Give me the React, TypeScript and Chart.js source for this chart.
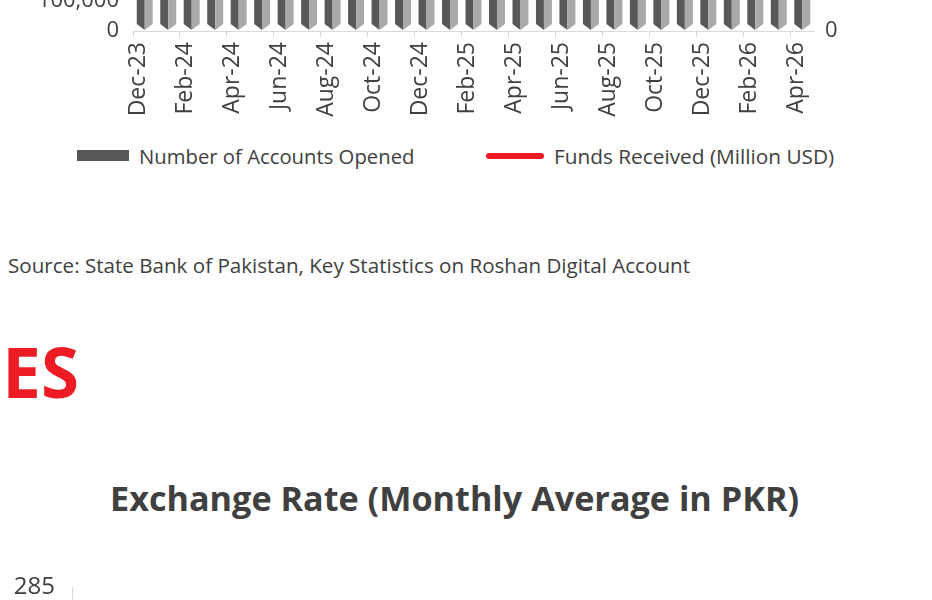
import React, { useEffect, useRef } from "react";
import { Chart, registerables } from "chart.js";
Chart.register(...registerables);

const months = [
  "Dec-23", "Jan-24", "Feb-24", "Mar-24", "Apr-24", "May-24", "Jun-24", "Jul-24",
  "Aug-24", "Sep-24", "Oct-24", "Nov-24", "Dec-24", "Jan-25", "Feb-25", "Mar-25",
  "Apr-25", "May-25", "Jun-25", "Jul-25", "Aug-25", "Sep-25", "Oct-25", "Nov-25",
  "Dec-25", "Jan-26", "Feb-26", "Mar-26", "Apr-26",
];

const accountsOpened = [
  731200, 746800, 760900, 772400, 786100, 799500, 812300, 825900, 839200, 852700,
  866400, 879100, 892500, 905300, 917800, 930600, 942100, 954900, 966300, 978800,
  990200, 1002600, 1014900, 1026300, 1038700, 1050200, 1061500, 1072900, 1084600,
];

const fundsReceived = [
  7900, 8050, 8200, 8360, 8520, 8690, 8850, 9010, 9170, 9330,
  9490, 9650, 9810, 9960, 10110, 10260, 10410, 10560, 10720, 10870,
  11010, 11150, 11290, 11430, 11560, 11690, 11820, 11950, 12080,
];

const exchangeRate = [
  282.4, 280.4, 279.3, 278.9, 278.4, 278.3, 278.3, 278.4, 278.6, 278.5,
  277.8, 277.7, 278.2, 279.0, 279.5, 280.0, 280.8, 281.5, 282.5, 283.0,
  282.6, 281.9, 281.2, 280.9, 280.6, 280.3, 280.1, 280.0, 279.8,
];

const accountsTicks = { min: 0, max: 1200000, step: 100000 };
const fundsTicks = { min: 0, max: 14000, step: 2000 };
const rateTicks = { min: 265, max: 285, step: 5 };

const legendLabels = ["Number of Accounts Opened", "Funds Received (Million USD)"];
const sourceText = "Source: State Bank of Pakistan, Key Statistics on Roshan Digital Account";
const sectionHeading = "PRICES";
const rateTitle = "Exchange Rate (Monthly Average in PKR)";

const DARK = "#58585a";
const LIGHT = "#a9a9ab";
const RED = "#ed1c24";
const TEXT = "#404040";
const AXIS = "#d9d9d9";
const FONT = "'Open Sans', sans-serif";

const bar3d = {
  id: "bar3d",
  afterDatasetDraw(chart: any, args: any) {
    if (args.index !== 0) return;
    const ctx = chart.ctx;
    ctx.save();
    args.meta.data.forEach((el: any) => {
      const { x, y, base, width } = el.getProps(["x", "y", "base", "width"], true);
      const l = x - width / 2;
      const r = x + width / 2;
      const b = base - 1;
      const tip = 6;
      ctx.fillStyle = DARK;
      ctx.beginPath();
      ctx.moveTo(l, y);
      ctx.lineTo(x, y);
      ctx.lineTo(x, b);
      ctx.lineTo(l, b - tip);
      ctx.closePath();
      ctx.fill();
      ctx.fillStyle = LIGHT;
      ctx.beginPath();
      ctx.moveTo(x, y);
      ctx.lineTo(r, y);
      ctx.lineTo(r, b - tip);
      ctx.lineTo(x, b);
      ctx.closePath();
      ctx.fill();
    });
    ctx.restore();
  },
};

function RdaChart() {
  const ref = useRef<HTMLCanvasElement>(null);
  useEffect(() => {
    const chart = new Chart(ref.current!, {
      type: "bar",
      data: {
        labels: months,
        datasets: [
          {
            type: "bar",
            label: legendLabels[0],
            data: accountsOpened,
            backgroundColor: "rgba(0,0,0,0)",
            borderWidth: 0,
            yAxisID: "y",
            categoryPercentage: 1,
            barPercentage: 0.68,
            order: 2,
          },
          {
            type: "line",
            label: legendLabels[1],
            data: fundsReceived,
            borderColor: RED,
            borderWidth: 3,
            pointRadius: 0,
            yAxisID: "y1",
            order: 1,
          } as any,
        ],
      },
      options: {
        responsive: false,
        animation: false,
        layout: { padding: { top: 20, left: 0, right: 0, bottom: 0 } },
        plugins: { legend: { display: false }, tooltip: { enabled: false } },
        scales: {
          x: {
            afterFit: (s: any) => { s.height = 90; },
            grid: {
              display: true,
              drawOnChartArea: false,
              tickLength: 6,
              color: (c: any) => (c.index % 2 === 0 ? AXIS : "rgba(0,0,0,0)"),
            },
            border: { display: true, color: AXIS, width: 1 },
            ticks: {
              autoSkip: false,
              maxRotation: 90,
              minRotation: 90,
              padding: 5,
              labelOffset: -6,
              color: TEXT,
              font: { family: FONT, size: 23 },
              callback: (_v: any, i: number) => (i % 2 === 0 ? months[i] : ""),
            },
          },
          y: {
            position: "left",
            min: accountsTicks.min,
            max: accountsTicks.max,
            afterFit: (s: any) => { s.width = 133; },
            grid: { display: false },
            border: { display: false },
            ticks: {
              stepSize: accountsTicks.step,
              padding: 6,
              color: TEXT,
              font: { family: FONT, size: 22 },
              callback: (v: any) => Number(v).toLocaleString("en-US"),
            },
          },
          y1: {
            position: "right",
            min: fundsTicks.min,
            max: fundsTicks.max,
            afterFit: (s: any) => { s.width = 118; },
            grid: { display: false },
            border: { display: false },
            ticks: {
              stepSize: fundsTicks.step,
              padding: 3,
              color: TEXT,
              font: { family: FONT, size: 22 },
              callback: (v: any) => Number(v).toLocaleString("en-US"),
            },
          },
        },
      },
      plugins: [bar3d],
    });
    return () => chart.destroy();
  }, []);
  return (
    <canvas
      ref={ref}
      width={932}
      height={470}
      style={{ position: "absolute", left: 0, top: -349, width: 932, height: 470 }}
    />
  );
}

function RateChart() {
  const ref = useRef<HTMLCanvasElement>(null);
  useEffect(() => {
    const chart = new Chart(ref.current!, {
      type: "line",
      data: {
        labels: months,
        datasets: [
          {
            label: rateTitle,
            data: exchangeRate,
            borderColor: RED,
            borderWidth: 3,
            pointRadius: 0,
          },
        ],
      },
      options: {
        responsive: false,
        animation: false,
        layout: { padding: { top: 25, left: 0, right: 20, bottom: 0 } },
        plugins: { legend: { display: false }, tooltip: { enabled: false } },
        scales: {
          x: {
            grid: { display: false },
            border: { display: true, color: AXIS },
            ticks: { color: TEXT, font: { family: FONT, size: 18 } },
          },
          y: {
            min: rateTicks.min,
            max: rateTicks.max,
            afterFit: (s: any) => { s.width = 72; },
            grid: { display: false },
            border: { display: true, color: AXIS, width: 1 },
            ticks: {
              stepSize: rateTicks.step,
              padding: 9,
              color: TEXT,
              font: { family: FONT, size: 24 },
            },
          },
        },
      },
    });
    return () => chart.destroy();
  }, []);
  return (
    <canvas
      ref={ref}
      width={932}
      height={500}
      style={{ position: "absolute", left: 0, top: 562, width: 932, height: 500 }}
    />
  );
}

export default function App() {
  return (
    <div
      style={{
        position: "fixed",
        left: 0,
        top: 0,
        width: 932,
        height: 600,
        overflow: "hidden",
        background: "#ffffff",
        fontFamily: FONT,
        color: TEXT,
      }}
    >
      <RdaChart />
      <div style={{ position: "absolute", left: 77, top: 150, width: 52, height: 11, background: DARK }} />
      <div style={{ position: "absolute", left: 139, top: 142, fontSize: 20.3, lineHeight: "28px", whiteSpace: "nowrap" }}>
        {legendLabels[0]}
      </div>
      <div style={{ position: "absolute", left: 486, top: 153, width: 58, height: 6, borderRadius: 3, background: RED }} />
      <div style={{ position: "absolute", left: 554, top: 142, fontSize: 20.8, lineHeight: "28px", whiteSpace: "nowrap" }}>
        {legendLabels[1]}
      </div>
      <div style={{ position: "absolute", left: 8, top: 250, fontSize: 20.6, lineHeight: "30px", whiteSpace: "nowrap" }}>
        {sourceText}
      </div>
      <div
        style={{
          position: "absolute",
          right: 932 - 79,
          top: 321,
          fontSize: 69,
          lineHeight: "100px",
          fontWeight: 700,
          color: RED,
          whiteSpace: "nowrap",
        }}
      >
        {sectionHeading}
      </div>
      <div
        style={{
          position: "absolute",
          left: 110,
          top: 475,
          fontSize: 34.2,
          lineHeight: "46px",
          fontWeight: 700,
          whiteSpace: "nowrap",
        }}
      >
        {rateTitle}
      </div>
      <RateChart />
    </div>
  );
}
